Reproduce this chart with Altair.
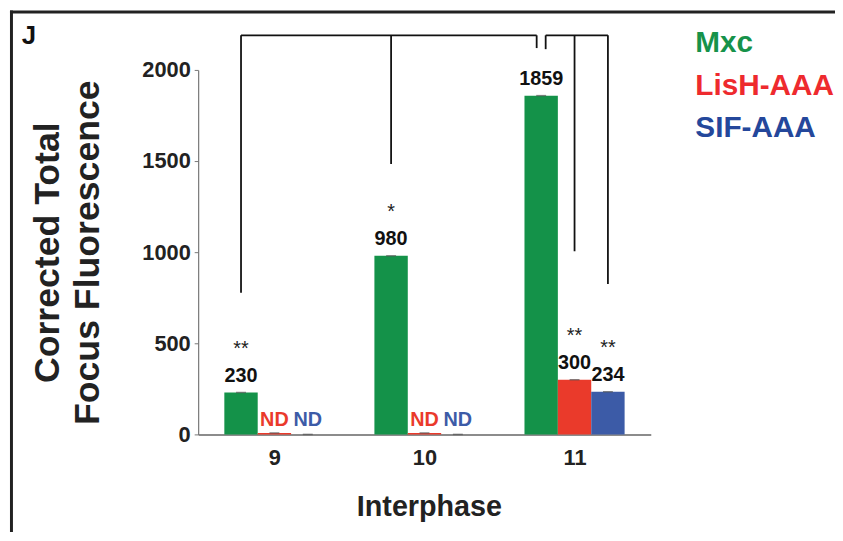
import altair as alt
import pandas as pd

# ---------------- data ----------------
interphases = [9, 10, 11]
series = ["Mxc", "LisH-AAA", "SIF-AAA"]
mxc_values = [230, 980, 1859]
lish_values = [8, 8, 300]
sif_values = [0, 0, 234]
mxc_labels = ["230", "980", "1859"]
lish_labels = ["ND", "ND", "300"]
sif_labels = ["ND", "ND", "234"]
mxc_sig = ["**", "*", ""]
lish_sig = ["", "", "**"]
sif_sig = ["", "", "**"]
y_ticks = [0, 500, 1000, 1500, 2000]
# significance brackets: (interphase, series, lower end of the drop)
bracket_a = [(9, "Mxc", 777), (10, "Mxc", 1484), (11, "Mxc", 2120)]
bracket_b = [(11, "Mxc", 2114), (11, "LisH-AAA", 1005), (11, "SIF-AAA", 826)]
bracket_top = 2190

# ---------------- styling ----------------
bar_colors = ["#149249", "#EA3A2B", "#3C5BA7"]
text_colors = ["#16924A", "#EE2A2E", "#24479B"]
NARROW = "Liberation Sans Narrow, Arial Narrow, Liberation Sans, Arial, sans-serif"
ARIAL = "Liberation Sans, Arial, sans-serif"
BAR_STEP = 0.2224  # group-relative offset between bars (x units)
W, H = 457, 368

values_by_series = [mxc_values, lish_values, sif_values]
labels_by_series = [mxc_labels, lish_labels, sif_labels]
sig_by_series = [mxc_sig, lish_sig, sif_sig]

rows = []
for si, s in enumerate(series):
    for gi, ip in enumerate(interphases):
        rows.append({
            "interphase": ip,
            "series": s,
            "pos": ip + (si - 1) * BAR_STEP,
            "value": values_by_series[si][gi],
            "label": labels_by_series[si][gi],
            "sig": sig_by_series[si][gi],
        })
df = pd.DataFrame(rows)


def pos_of(ip, s):
    return ip + (series.index(s) - 1) * BAR_STEP


segs = []
for members, nudge_first, nudge_last in [(bracket_a, 0.0, -0.03), (bracket_b, 0.03, 0.0)]:
    xs = [pos_of(ip, s) for ip, s, _ in members]
    xs[0] += nudge_first
    xs[-1] += nudge_last
    segs.append({"x": xs[0], "x2": xs[-1], "y": bracket_top, "y2": bracket_top})
    for xv, (_, _, low) in zip(xs, members):
        segs.append({"x": xv, "x2": xv, "y": bracket_top, "y2": low})
seg_df = pd.DataFrame(segs)

xscale = alt.Scale(domain=[8.492, 11.508], nice=False, zero=False, padding=0)
yscale = alt.Scale(domain=[0, 2000], nice=False, padding=0)
color_scale = alt.Scale(domain=series, range=bar_colors)

x_enc = alt.X(
    "pos:Q", scale=xscale,
    axis=alt.Axis(
        values=interphases, format="d", ticks=False, tickSize=0, grid=False,
        labelFont=NARROW, labelFontSize=22, labelFontWeight="bold", labelColor="#222",
        labelPadding=13, domainColor="#666", domainWidth=1.5,
        title="Interphase", titleFont=NARROW, titleFontSize=29, titleFontWeight="bold",
        titleColor="#222", titleX=233, titleY=59, titleBaseline="top",
    ),
)
y_enc = alt.Y(
    "value:Q", scale=yscale,
    axis=alt.Axis(
        values=y_ticks, format="d", grid=False, tickSize=4, tickColor="#777",
        domainColor="#777", domainWidth=1.2, labelFont=NARROW, labelFontSize=22,
        labelFontWeight="bold", labelColor="#222", labelPadding=4,
        title=["Corrected Total", "Focus Fluorescence"], titleFont=ARIAL,
        titleFontSize=36, titleFontWeight="bold", titleColor="#222",
        titleLineHeight=40, titleAngle=270, titleX=-152, titleY=184,
        titleAlign="center", titleBaseline="middle",
    ),
)

base = alt.Chart(df)

bars = base.mark_bar(size=33.7).encode(
    x=x_enc, y=y_enc,
    color=alt.Color("series:N", scale=color_scale, legend=None),
)

caps = base.mark_tick(orient="horizontal", size=10, thickness=1.5, color="#555").encode(
    x="pos:Q", y="value:Q"
)

num_labels = base.transform_filter("datum.label != 'ND'").mark_text(
    font=NARROW, fontSize=20, fontWeight="bold", color="#111", baseline="alphabetic", dy=-11
).encode(x="pos:Q", y="value:Q", text="label:N")

nd_labels = base.transform_filter("datum.label == 'ND'").transform_calculate(
    zero="0"
).mark_text(
    font=ARIAL, fontSize=20, fontWeight="bold", baseline="alphabetic", dy=-8
).encode(
    x="pos:Q", y=alt.Y("zero:Q"), text="label:N",
    color=alt.Color("series:N", scale=alt.Scale(domain=series, range=text_colors), legend=None),
)

sig_labels = base.transform_filter("datum.sig != ''").mark_text(
    font=ARIAL, fontSize=20, color="#222", baseline="alphabetic", dy=-38
).encode(x="pos:Q", y="value:Q", text="sig:N")

brackets = alt.Chart(seg_df).mark_rule(color="#111", strokeWidth=1.8).encode(
    x="x:Q", x2="x2:Q", y="y:Q", y2="y2:Q"
)

legend_layers = []
for i, s in enumerate(series):
    legend_layers.append(
        alt.Chart(pd.DataFrame({"name": [s]})).mark_text(
            font=ARIAL, fontSize=30, fontWeight="bold", align="left", baseline="middle",
            color=text_colors[i],
        ).encode(text="name:N", x=alt.value(502), y=alt.value(-27 + 43 * i))
    )

panel = alt.Chart(pd.DataFrame({"t": ["J"]})).mark_text(
    font=ARIAL, fontSize=26, fontWeight="bold", align="left", baseline="alphabetic", color="#111"
).encode(text="t:N", x=alt.value(-178), y=alt.value(-26))

frame_v = alt.Chart(pd.DataFrame({"a": [0]})).mark_rule(color="#222", strokeWidth=3).encode(
    x=alt.value(-188.5), y=alt.value(-60), y2=alt.value(540)
)
frame_h = alt.Chart(pd.DataFrame({"a": [0]})).mark_rule(color="#222", strokeWidth=3).encode(
    x=alt.value(-190), x2=alt.value(700), y=alt.value(-58.5)
)

chart = alt.layer(
    frame_v, frame_h, panel, brackets, bars, caps, num_labels, nd_labels, sig_labels,
    *legend_layers,
).properties(
    width=W, height=H,
    autosize=alt.AutoSizeParams(type="none"),
    padding={"left": 192, "top": 60, "right": 186, "bottom": 96},
).configure_view(stroke=None)

chart.save("out.html", embed_options={"renderer": "svg", "actions": False})
